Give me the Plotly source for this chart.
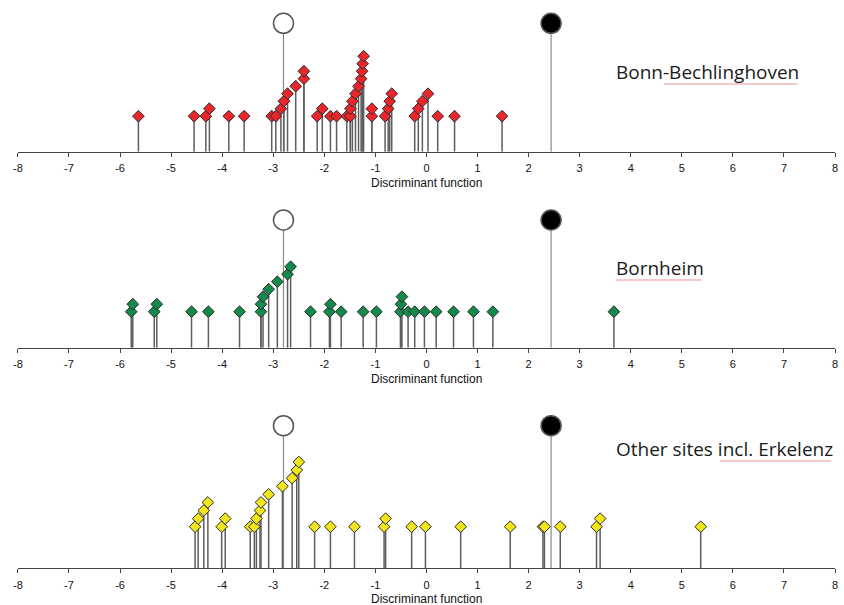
import plotly.graph_objects as go

# ---------------- data ----------------
ticks = list(range(-8, 9))
tick_labels = [str(t) for t in ticks]

group_names = ["Bonn-Bechlinghoven", "Bornheim", "Other sites incl. Erkelenz"]

# reference group centroids (open / filled circles)
centroid_open = -2.80
centroid_filled = 2.44

bonn_x = [-5.64, -4.55, -4.32, -4.25, -3.87, -3.57, -3.03, -2.95, -2.85, -2.79,
          -2.72, -2.56, -2.40, -2.40, -2.14, -2.04, -1.88, -1.76, -1.56, -1.49,
          -1.49, -1.45, -1.39, -1.33, -1.28, -1.26, -1.25, -1.23, -1.07, -1.07,
          -0.81, -0.75, -0.72, -0.68, -0.23, -0.16, -0.08, 0.03, 0.22, 0.55, 1.48]
bonn_lvl = [1, 1, 1, 2, 1, 1, 1, 1, 2, 3,
            4, 5, 6, 7, 1, 2, 1, 1, 1, 1,
            2, 3, 4, 5, 6, 7, 8, 9, 1, 2,
            1, 2, 3, 4, 1, 2, 3, 4, 1, 1, 1]

born_x = [-5.78, -5.75, -5.33, -5.28, -4.60, -4.27, -3.66, -3.24, -3.24, -3.20,
          -3.09, -2.92, -2.72, -2.66, -2.27, -1.90, -1.88, -1.67, -1.24, -0.98,
          -0.51, -0.50, -0.48, -0.36, -0.23, -0.04, 0.19, 0.53, 0.92, 1.30, 3.67]
born_lvl = [1, 2, 1, 2, 1, 1, 1, 1, 2, 3,
            4, 5, 6, 7, 1, 1, 2, 1, 1, 1,
            1, 2, 3, 1, 1, 1, 1, 1, 1, 1, 1]

oth_x = [-4.53, -4.47, -4.36, -4.28, -4.01, -3.94, -3.45, -3.37, -3.33, -3.26,
         -3.24, -3.09, -2.82, -2.63, -2.54, -2.50, -2.19, -1.88, -1.41, -0.83,
         -0.80, -0.29, -0.02, 0.67, 1.64, 2.28, 2.31, 2.62, 3.33, 3.40, 5.37]
oth_lvl = [1, 2, 3, 4, 1, 2, 1, 1, 2, 3,
           4, 5, 6, 7, 8, 9, 1, 1, 1, 1,
           2, 1, 1, 1, 1, 1, 1, 1, 1, 2, 1]

colors = ["#e8262b", "#13894c", "#f2e51b"]

# ---------------- layout geometry (pixels) ----------------
W, H = 844, 605
x_left_px, x_right_px = 13, 838
panels = [
    dict(top=0, axis=151.7, base=35.5, step=7.5, circ=128.4, label_y=72, ul=(665, 800, 84)),
    dict(top=196, axis=347.7, base=36.0, step=7.5, circ=127.7, label_y=268, ul=(617, 703, 280)),
    dict(top=405, axis=568.3, base=41.6, step=8.09, circ=142.6, label_y=449, ul=(722, 834, 461)),
]
data_sets = [(bonn_x, bonn_lvl), (born_x, born_lvl), (oth_x, oth_lvl)]

tick_font = dict(family="Liberation Sans Narrow, Liberation Sans, Arial", size=11, color="#111111")

fig = go.Figure()
layout_axes = {}
annotations = []
shapes = []

for i, (p, (xs, lv)) in enumerate(zip(panels, data_sets)):
    n = "" if i == 0 else str(i + 1)
    xa, ya = "x" + n, "y" + n
    ys = [p["base"] + (l - 1) * p["step"] for l in lv]

    # circle stems
    sx, sy = [], []
    for cx in (centroid_open, centroid_filled):
        sx += [cx, cx, None]
        sy += [0, p["circ"], None]
    fig.add_trace(go.Scatter(x=sx, y=sy, mode="lines", xaxis=xa, yaxis=ya,
                             line=dict(color="#8a8a8a", width=1.2),
                             hoverinfo="skip", showlegend=False))
    # sample stems
    sx, sy = [], []
    for xv, yv in zip(xs, ys):
        sx += [xv, xv, None]
        sy += [0, yv, None]
    fig.add_trace(go.Scatter(x=sx, y=sy, mode="lines", xaxis=xa, yaxis=ya,
                             line=dict(color="#5e5e5e", width=1.5),
                             hoverinfo="skip", showlegend=False))
    # sample markers
    fig.add_trace(go.Scatter(x=xs, y=ys, mode="markers", xaxis=xa, yaxis=ya,
                             marker=dict(symbol="diamond", size=9, color=colors[i],
                                         line=dict(color="#2b2b2b", width=1)),
                             name=group_names[i], showlegend=False))
    # centroid circles
    fig.add_trace(go.Scatter(x=[centroid_open, centroid_filled], y=[p["circ"], p["circ"]],
                             mode="markers", xaxis=xa, yaxis=ya,
                             marker=dict(symbol="circle", size=20,
                                         color=["white", "black"],
                                         line=dict(color="#555555", width=1.5)),
                             showlegend=False))

    height_px = p["axis"] - p["top"]
    layout_axes["xaxis" + n] = dict(
        domain=[x_left_px / W, x_right_px / W], range=[-8.0001, 8.0001], anchor=ya,
        tickmode="array", tickvals=ticks, ticktext=tick_labels,
        showline=True, linecolor="#444444", linewidth=1,
        ticks="outside", ticklen=4, tickwidth=1, tickcolor="#444444",
        ticklabelstandoff=2,
        showgrid=False, zeroline=False,
        tickfont=tick_font,
        fixedrange=True,
    )
    layout_axes["yaxis" + n] = dict(
        domain=[1 - p["axis"] / H, 1 - p["top"] / H], range=[0, height_px], anchor=xa,
        visible=False, showgrid=False, zeroline=False, fixedrange=True,
    )
    annotations.append(dict(
        text="Discriminant function", xref="paper", yref="paper",
        x=(x_left_px + x_right_px) / 2 / W, y=1 - (p["axis"] + 31) / H,
        xanchor="center", yanchor="middle", showarrow=False,
        font=dict(family="Liberation Sans Narrow, Liberation Sans, Arial", size=12, color="#111111"),
    ))
    annotations.append(dict(
        text=group_names[i], xref="paper", yref="paper",
        x=615 / W, y=1 - p["label_y"] / H, xanchor="left", yanchor="middle",
        showarrow=False, font=dict(family="Open Sans, Lato, sans-serif", size=19, color="#1a1a1a"),
    ))
    u0, u1, uy = p["ul"]
    shapes.append(dict(type="line", xref="paper", yref="paper",
                       x0=u0 / W, x1=u1 / W, y0=1 - uy / H, y1=1 - uy / H,
                       line=dict(color="rgba(225,90,90,0.65)", width=1)))

fig.update_layout(
    width=W, height=H, margin=dict(l=0, r=0, t=0, b=0),
    paper_bgcolor="white", plot_bgcolor="white",
    annotations=annotations, shapes=shapes, showlegend=False,
    **layout_axes,
)

fig.write_html(
    "out.html",
    config={"displayModeBar": False},
    post_script="document.body.style.margin='0';document.body.style.overflow='hidden';",
)
